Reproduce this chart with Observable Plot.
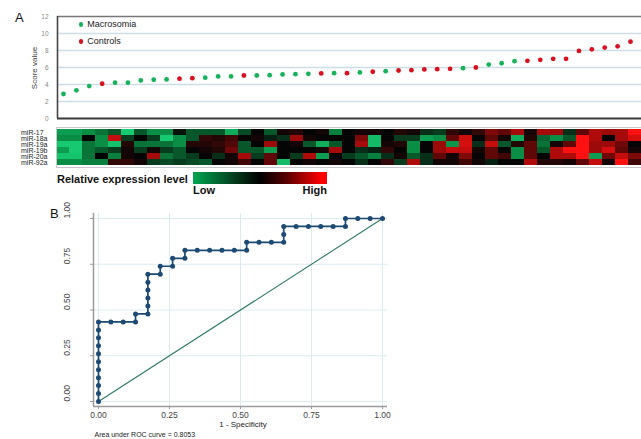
<!DOCTYPE html>
<html>
<head>
<meta charset="utf-8">
<script src="https://cdn.jsdelivr.net/npm/d3@7"></script>
<script src="https://cdn.jsdelivr.net/npm/@observablehq/plot@0.6"></script>
<style>
  body { margin: 0; background: #fff; }
  #fig { position: relative; width: 641px; height: 439px; overflow: hidden; background: #fff;
         font-family: "Liberation Sans", Arial, sans-serif; color: #222; }
  #fig .abs { position: absolute; line-height: 1; white-space: nowrap; }
  #fig .layer { position: absolute; left: 0; }
  #fig .layer svg { display: block; }
  .dotkey { position: absolute; width: 4.8px; height: 4.8px; border-radius: 50%; }
</style>
</head>
<body>
<div id="fig"></div>
<script>
// ---- Panel A: risk score per subject, ordered by score ----
const scoreGroups = ["Macrosomia", "Controls"];
const scoreColors = ["#17b35a", "#d9101e"];
const scores = [2.88, 3.31, 3.81, 4.09, 4.21, 4.21, 4.48, 4.56, 4.60, 4.68,
                4.75, 4.80, 4.95, 4.95, 5.06, 5.06, 5.10, 5.18, 5.22, 5.26,
                5.30, 5.33, 5.33, 5.42, 5.50, 5.57, 5.65, 5.69, 5.77, 5.80,
                5.85, 5.92, 6.00, 6.35, 6.50, 6.74, 6.78, 6.90, 7.02, 7.02,
                7.95, 8.14, 8.34, 8.49, 9.04];
const subjectGroup = ["M","M","M","C","M","M","M","M","M","C",
                      "C","M","M","M","C","M","M","M","M","M",
                      "C","M","C","M","C","M","C","C","C","C",
                      "C","M","C","M","M","M","C","C","C","C",
                      "C","C","C","C","C"];
const scoreTicks = [0, 2, 4, 6, 8, 10, 12];

// ---- Heatmap: relative expression (-1 low … +1 high) per subject ----
const mirNames = ["miR-17", "miR-18a", "miR-19a", "miR-19b", "miR-20a", "miR-92a"];
const mir17  = [-0.6,-0.6,-0.5,-0.4,-0.3,-0.9,-0.3,-0.5,-0.5,-0.05,-0.3,-0.3,
                -0.3,-0.7,-0.25,0,-0.3,0.05,0.1,0,0.05,-0.45,0,
                0.05,0.05,0,0.1,0.05,-0.15,-0.2,0.15,0.05,0.15,0.4,
                0.3,0.55,0.05,0.55,0.5,-0.15,0.3,0.6,0.5,0.55,1.0];
const mir18a = [-0.5,-0.5,0,-0.5,0.7,-0.2,0,-0.2,-0.9,-0.5,-0.3,0.15,
                0.1,0.2,0,0.05,-0.1,-0.15,0.5,0.05,0,0,0,
                0.4,-0.8,0,-0.2,-0.2,-0.6,-0.5,0.3,0.75,0,0.3,
                0.05,-0.7,0.1,-0.35,-0.5,-0.3,1.0,0.6,0,0.55,0.8];
const mir19a = [-0.9,-0.9,-0.4,-0.5,-0.85,0.1,-0.4,-0.4,-0.4,-0.5,0.1,0.1,
                0.15,0.25,-0.3,0,0.5,0,0.05,-0.3,-0.7,-0.3,0,
                0.55,-0.8,0.05,0.1,-0.5,0,0.5,-0.55,0.8,-0.15,0.7,
                -0.3,0.1,0.3,-0.4,0.05,0.3,1.0,0.5,0.5,0.35,0];
const mir19b = [-0.6,-0.9,-0.4,-0.3,-0.2,0.05,-0.2,0.05,-0.2,-0.3,0,0.05,
                0.1,0.35,-0.3,-0.3,-0.6,0,0,0,0.05,0.55,0,
                -0.15,-0.1,0.15,0,-0.5,0,0.5,0.7,0.7,0.05,0.3,
                0,-0.5,0.3,-0.3,0.6,1.0,1.0,0.5,0.8,0.3,0.05];
const mir20a = [-0.85,-0.85,-0.4,0,-0.45,0.05,0,0.55,-0.4,-0.3,-0.2,0,
                -0.15,0.05,0.55,-0.2,0.3,0,-0.2,0.6,-0.6,0,-0.2,
                -0.3,-0.45,-0.15,0.05,-0.3,-0.15,0.3,0.05,0.4,0,0.3,
                0.2,-0.5,0.3,0,0.6,0.6,1.0,-0.6,0.35,0.7,0.4];
const mir92a = [-0.5,-0.5,-0.45,-0.45,0.15,0.15,0.05,-0.2,-0.25,-0.2,-0.25,-0.3,
                0,0.05,0.2,0,0.3,-0.8,0,0.05,0,0.05,0,
                -0.15,0,0.15,-0.2,0.6,-0.15,0.05,0.05,0.2,0.05,-0.1,
                0,0,0.6,0.1,0.1,0.05,0.3,0.7,0.05,1.0,0.2];
const expression = [mir17, mir18a, mir19a, mir19b, mir20a, mir92a];

// ---- Panel B: ROC curve of the score ----
const fpr = [0,0,0,0,0,0,0,0,0,0,0,
             0.0435,0.0870,0.1304,
             0.1304,0.1739,
             0.1739,0.1739,0.1739,0.1739,0.1739,
             0.2174,
             0.2174,0.2609,
             0.2609,0.3043,
             0.3043,0.3478,0.3913,0.4348,0.4783,0.5217,
             0.5217,0.5652,0.6087,0.6522,
             0.6522,
             0.6522,0.6957,0.7391,0.7826,0.8261,0.8696,
             0.8696,0.9130,0.9565,1];
const tpr = [0,0.0435,0.0870,0.1304,0.1739,0.2174,0.2609,0.3043,0.3478,0.3913,0.4348,
             0.4348,0.4348,0.4348,
             0.4783,0.4783,
             0.5217,0.5652,0.6087,0.6522,0.6957,
             0.6957,
             0.7391,0.7391,
             0.7826,0.7826,
             0.8261,0.8261,0.8261,0.8261,0.8261,0.8261,
             0.8696,0.8696,0.8696,0.8696,
             0.9130,
             0.9565,0.9565,0.9565,0.9565,0.9565,0.9565,
             1,1,1,1];
const refX = [0, 1];
const refY = [0, 1];
const rocTicks = [0, 0.25, 0.5, 0.75, 1];
const aucText = "Area under ROC curve = 0.8053";

// ---- tables built from the arrays ----
const subjects = scores.map((s, i) => ({
  rank: i + 1, score: s,
  group: subjectGroup[i] === "M" ? "Macrosomia" : "Controls"
}));
const cells = expression.flatMap((row, r) =>
  row.map((v, c) => ({mir: mirNames[r], col: c + 1, v})));
const roc = fpr.map((x, i) => ({fpr: x, tpr: tpr[i]}));
const diagonal = refX.map((x, i) => ({fpr: x, tpr: refY[i]}));

const FONT = "Liberation Sans, Arial, sans-serif";
const fig = document.getElementById("fig");

function layer(node, top) {
  const d = document.createElement("div");
  d.className = "layer";
  d.style.top = top + "px";
  d.appendChild(node);
  fig.appendChild(d);
}
// text placed by its baseline (line-height 1)
function label(text, {x, base, size, weight = "normal", color = "#222", align = "left", rotate = null}) {
  const d = document.createElement("div");
  d.className = "abs";
  d.textContent = text;
  d.style.fontSize = size + "px";
  d.style.fontWeight = weight;
  d.style.color = color;
  if (rotate != null) {
    d.style.left = x + "px";
    d.style.top = base + "px";
    d.style.transform = `translate(-50%,-50%) rotate(${rotate}deg)`;
  } else {
    d.style.left = x + "px";
    d.style.top = (base - 0.8465 * size) + "px";
    if (align === "right") d.style.transform = "translateX(-100%)";
    if (align === "center") d.style.transform = "translateX(-50%)";
  }
  fig.appendChild(d);
  return d;
}

// Panel A scatter
const scorePlot = Plot.plot({
  width: 641, height: 124,
  marginLeft: 57, marginRight: 0, marginTop: 16, marginBottom: 6,
  style: {background: "transparent", fontFamily: FONT},
  x: {domain: [1, 45], insetLeft: 6, insetRight: 11, axis: null},
  y: {domain: [0, 12]},
  color: {domain: scoreGroups, range: scoreColors},
  marks: [
    Plot.gridY(scoreTicks.slice(1, -1), {stroke: "#cddde6", strokeOpacity: 1, strokeWidth: 1.3}),
    Plot.axisY({ticks: scoreTicks, tickSize: 0, tickPadding: 9, fontSize: 6.5, fill: "#888", label: null}),
    Plot.ruleY([12], {stroke: "#777", strokeWidth: 1.5}),
    Plot.ruleY([0], {stroke: "#3a3a3a", strokeWidth: 2}),
    Plot.ruleX([1], {dx: -6, stroke: "#444", strokeWidth: 1.6}),
    Plot.dot(subjects, {x: "rank", y: "score", fill: "group", r: 2.4})
  ]
});
layer(scorePlot, 0);

// Heatmap
const heatPlot = Plot.plot({
  width: 641, height: 48,
  marginLeft: 56, marginRight: 0, marginTop: 5, marginBottom: 3,
  style: {background: "transparent", fontFamily: FONT},
  x: {type: "band", domain: d3.range(1, 46), padding: 0, axis: null},
  y: {type: "band", domain: mirNames, padding: 0, axis: null},
  color: {type: "linear", domain: [-1, -0.5, 0, 0.5, 1],
          range: ["#1ad97c", "#0a8e45", "#050505", "#9c0a0a", "#ff1111"]},
  marks: [
    Plot.cell(cells, {x: "col", y: "mir", fill: "v", shapeRendering: "crispEdges"}),
    Plot.frame({stroke: "#c8c8c8"}),
    Plot.text(mirNames, {y: d => d, text: d => d, frameAnchor: "left", textAnchor: "start",
                         dx: -35.5, fontSize: 7, fill: "#222"})
  ]
});
layer(heatPlot, 122);

// ROC plot
const rocPlot = Plot.plot({
  width: 641, height: 239,
  marginLeft: 93, marginRight: 254, marginTop: 13, marginBottom: 33,
  style: {background: "transparent", fontFamily: FONT},
  x: {domain: [0, 1], insetLeft: 5, insetRight: 5},
  y: {domain: [0, 1], insetTop: 5, insetBottom: 5},
  marks: [
    Plot.gridX(rocTicks, {stroke: "#dcebf0", strokeOpacity: 1}),
    Plot.gridY(rocTicks, {stroke: "#dcebf0", strokeOpacity: 1}),
    Plot.ruleX([0], {dx: -5, stroke: "#9a9a9a", strokeWidth: 1.5}),
    Plot.ruleY([0], {dy: 5, stroke: "#9a9a9a", strokeWidth: 1.5}),
    Plot.axisX({ticks: rocTicks, tickFormat: ".2f", tickSize: 3, tickPadding: 2,
                fontSize: 8.5, fill: "#444", stroke: "#9a9a9a", label: null}),
    Plot.axisY({ticks: rocTicks, tickFormat: () => "", tickSize: 3,
                stroke: "#9a9a9a", label: null}),
    Plot.text(rocTicks, {y: d => d, text: d3.format(".2f"), frameAnchor: "left",
                         dx: -26, rotate: -90, fontSize: 8.5, fill: "#444"}),
    Plot.line(diagonal, {x: "fpr", y: "tpr", stroke: "#2f7a68", strokeWidth: 1.1}),
    Plot.line(roc, {x: "fpr", y: "tpr", stroke: "#1c4a72", strokeWidth: 1.7}),
    Plot.dot(roc, {x: "fpr", y: "tpr", r: 2.5, fill: "#1c4a72"})
  ]
});
layer(rocPlot, 200);

// Panel letters, legends and titles
label("A", {x: 15, base: 21.7, size: 13, color: "#111"});
label("Score value", {x: 35, base: 68, size: 8, color: "#444", rotate: -90});
scoreGroups.forEach((g, i) => {
  const k = document.createElement("div");
  k.className = "dotkey";
  k.style.left = (81 - 2.4) + "px";
  k.style.top = (24.3 + i * 17.4 - 2.4) + "px";
  k.style.background = scoreColors[i];
  fig.appendChild(k);
  label(g, {x: 87.3, base: 27.7 + i * 16.6, size: 9, color: "#222"});
});

label("Relative expression level", {x: 57, base: 183.3, size: 11, weight: "bold", color: "#111"});
const ramp = document.createElement("div");
ramp.className = "abs";
Object.assign(ramp.style, {left: "193px", top: "172.3px", width: "134px", height: "11.7px",
  background: "linear-gradient(90deg, #00a651 0%, #03401f 30%, #000 50%, #5a0000 70%, #ff0000 96%)"});
fig.appendChild(ramp);
label("Low", {x: 193, base: 194, size: 11, weight: "bold", color: "#111"});
label("High", {x: 327, base: 194, size: 11, weight: "bold", color: "#111", align: "right"});

label("B", {x: 50, base: 218, size: 13, color: "#111"});
label("1 - Specificity", {x: 243, base: 428, size: 8, color: "#222", align: "center"});
label(aucText, {x: 94.5, base: 436.7, size: 7, color: "#222"});
</script>
</body>
</html>
